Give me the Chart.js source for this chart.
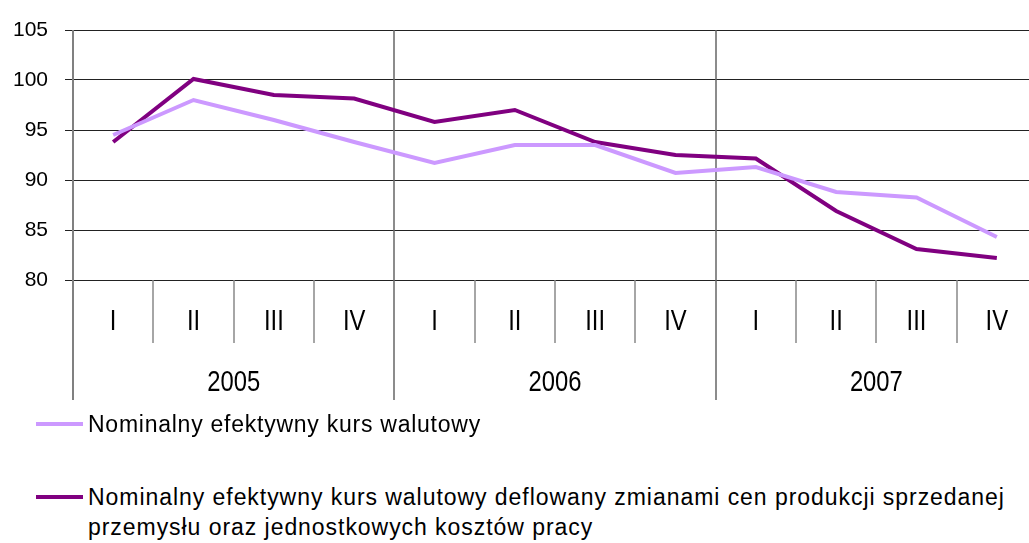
<!DOCTYPE html>
<html>
<head>
<meta charset="utf-8">
<script src="https://cdn.jsdelivr.net/npm/chart.js@4/dist/chart.umd.min.js"></script>
<style>
  html, body { margin: 0; padding: 0; background: #fff; overflow: hidden; }
  #wrap { position: relative; width: 1040px; height: 410px; }
  .leg { position: absolute; left: 88px; font-family: "Liberation Sans", Arial, sans-serif; font-size: 23px; letter-spacing: 0.75px; line-height: 30px; color: #000; white-space: nowrap; }
  .swatch { position: absolute; left: 36px; width: 47px; height: 4px; }
</style>
</head>
<body>
<div id="wrap"><canvas id="chart" width="1040" height="410"></canvas></div>
<div class="swatch" style="top:422px; background:#CC99FF"></div>
<div class="leg" style="top:409px">Nominalny efektywny kurs walutowy</div>
<div class="swatch" style="top:495px; background:#800080"></div>
<div class="leg" style="top:482px; letter-spacing:0.95px">Nominalny efektywny kurs walutowy deflowany zmianami cen produkcji sprzedanej<br>przemysłu oraz jednostkowych kosztów pracy</div>
<script>
// kwartały i lata
const quarters = ['I', 'II', 'III', 'IV', 'I', 'II', 'III', 'IV', 'I', 'II', 'III', 'IV'];
const years = ['2005', '2006', '2007'];
const quartersPerYear = 4;

// Nominalny efektywny kurs walutowy
const nominal = [94.5, 98.0, 96.0, 93.8, 91.7, 93.5, 93.5, 90.7, 91.3, 88.8, 88.25, 84.3];
// ... deflowany zmianami cen produkcji sprzedanej przemysłu oraz ULC
const deflated = [93.8, 100.1, 98.5, 98.15, 95.8, 97.0, 93.8, 92.5, 92.15, 86.9, 83.1, 82.2];

const yMin = 80, yMax = 105, yStep = 5;

// rysuje podział osi X na kwartały i lata
const axisFrame = {
    id: 'axisFrame',
    beforeDatasetsDraw(chart) {
        const { ctx, chartArea, scales: { x } } = chart;
        const step = x.getPixelForValue(1) - x.getPixelForValue(0);
        ctx.save();
        // separatory kwartałów pod osią
        ctx.strokeStyle = '#888';
        ctx.lineWidth = 1.5;
        for (let i = 1; i < quarters.length; i++) {
            if (i % quartersPerYear === 0) continue;
            const bx = Math.round(x.getPixelForValue(i) - step / 2);
            ctx.beginPath();
            ctx.moveTo(bx, chartArea.bottom);
            ctx.lineTo(bx, chartArea.bottom + 63);
            ctx.stroke();
        }
        // separatory lat + oś Y
        ctx.strokeStyle = '#666';
        ctx.lineWidth = 1.5;
        for (let i = quartersPerYear; i < quarters.length; i += quartersPerYear) {
            const bx = Math.round(x.getPixelForValue(i) - step / 2);
            ctx.beginPath();
            ctx.moveTo(bx, chartArea.top);
            ctx.lineTo(bx, chartArea.bottom + 120);
            ctx.stroke();
        }
        ctx.strokeStyle = '#808080';
        ctx.lineWidth = 2;
        ctx.beginPath();
        ctx.moveTo(chartArea.left, chartArea.top);
        ctx.lineTo(chartArea.left, chartArea.bottom + 120);
        ctx.stroke();

        // etykiety (czcionka zwężona jak w oryginale)
        ctx.fillStyle = '#000';
        ctx.textAlign = 'center';
        ctx.textBaseline = 'middle';
        ctx.font = '29px "Liberation Sans", Arial, sans-serif';
        quarters.forEach((q, i) => {
            ctx.save();
            ctx.translate(x.getPixelForValue(i), chartArea.bottom + 42);
            ctx.scale(0.82, 1);
            ctx.fillText(q, 0, 0);
            ctx.restore();
        });
        years.forEach((yr, j) => {
            const first = x.getPixelForValue(j * quartersPerYear);
            const last = x.getPixelForValue(j * quartersPerYear + quartersPerYear - 1);
            ctx.save();
            ctx.translate((first + last) / 2, chartArea.bottom + 103);
            ctx.scale(0.82, 1);
            ctx.fillText(yr, 0, 0);
            ctx.restore();
        });
        ctx.restore();
    }
};

const chart = new Chart(document.getElementById('chart').getContext('2d'), {
    type: 'line',
    data: {
        labels: quarters,
        datasets: [
            {
                label: 'Nominalny efektywny kurs walutowy',
                data: nominal,
                borderColor: '#CC99FF',
                borderWidth: 4,
                pointRadius: 0,
                tension: 0
            },
            {
                label: 'Nominalny efektywny kurs walutowy deflowany zmianami cen produkcji sprzedanej przemysłu oraz jednostkowych kosztów pracy',
                data: deflated,
                borderColor: '#800080',
                borderWidth: 4,
                pointRadius: 0,
                tension: 0
            }
        ]
    },
    options: {
        responsive: false,
        animation: false,
        layout: { padding: { top: 30, right: 3, left: 0, bottom: 130 } },
        plugins: {
            legend: { display: false },
            tooltip: { enabled: false }
        },
        scales: {
            x: {
                display: false,
                offset: true
            },
            y: {
                min: yMin,
                max: yMax,
                afterFit(scale) { scale.width = 73; },
                border: { display: false },
                grid: { color: '#222', lineWidth: 1, tickLength: 8 },
                ticks: {
                    stepSize: yStep,
                    padding: 17,
                    color: '#000',
                    font: { family: '"Liberation Sans", Arial, sans-serif', size: 21 }
                }
            }
        }
    },
    plugins: [axisFrame]
});
</script>
</body>
</html>
